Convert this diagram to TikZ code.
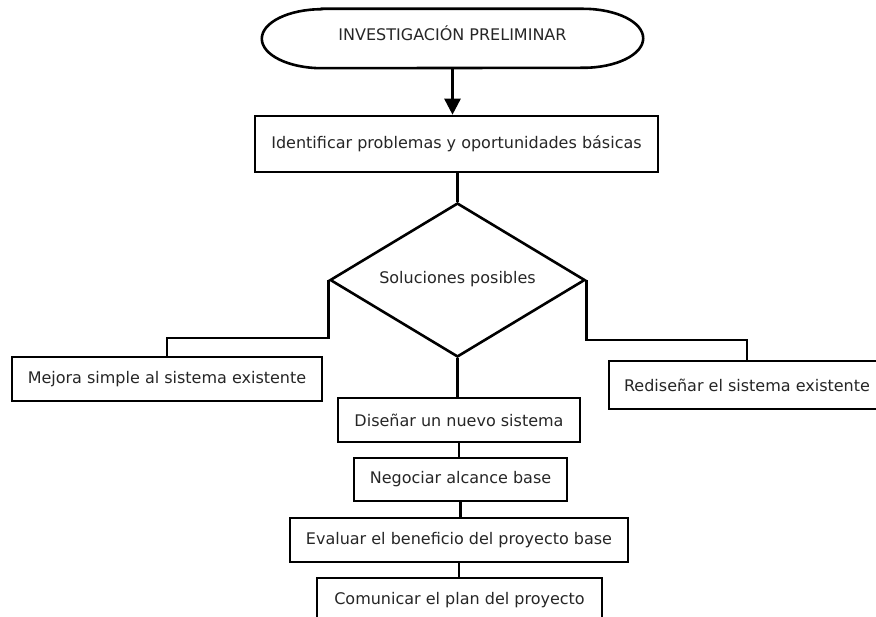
\documentclass[tikz,border=0pt]{standalone}
\usepackage{fontspec}
\setmainfont{DejaVu Sans}
\usetikzlibrary{shapes.geometric,arrows.meta}
\tikzset{
  line/.style={line width=2.6pt, draw=black},
  boxnode/.style={draw=black, line width=2.6pt, fill=white, text=black!85, inner sep=0pt,
    font=\fontsize{16}{19}\selectfont},
  txt/.style={text=black!85, font=\fontsize{16}{19}\selectfont},
}
\begin{document}
\begin{tikzpicture}[x=1pt,y=-1pt]
\useasboundingbox (0,0) rectangle (876,617);
\fill[white] (0,0) rectangle (876,617);
\clip (0,0) rectangle (876,617);
% terminator
\node[txt, minimum width=381pt, minimum height=59pt, inner sep=0pt] (start) at (452.5,38.5) {};
\node[txt] (startlbl) at (452.5,33) {INVESTIGACIÓN PRELIMINAR};
\draw[line] ([xshift=60pt]start.north west) -- ([xshift=-60pt]start.north east)
  arc[start angle=90, end angle=-90, x radius=60pt, y radius=29.5pt]
  -- ([xshift=60pt]start.south west)
  arc[start angle=270, end angle=90, x radius=60pt, y radius=29.5pt] -- cycle;
% boxes
\node[boxnode, minimum width=403pt, minimum height=56pt] (ident) at (456.5,144) {Identificar problemas y oportunidades básicas};
\node[diamond, draw=black, line width=2.6pt, inner sep=0pt, aspect=1.65,
  minimum width=255pt, minimum height=154pt, txt] (sol) at (457.5,280) {};
\node[txt] (sollbl) at (457.5,279) {Soluciones posibles};
\node[boxnode, minimum width=310pt, minimum height=44pt] (mejora) at (167,379) {Mejora simple al sistema existente};
\node[boxnode, minimum width=276pt, minimum height=48pt] (redis) at (747,385) {Rediseñar el sistema existente};
\node[boxnode, minimum width=242pt, minimum height=44pt] (disen) at (459,420) {Diseñar un nuevo sistema};
\node[boxnode, minimum width=213pt, minimum height=43pt] (nego) at (460.5,479.5) {Negociar alcance base};
\node[boxnode, minimum width=338pt, minimum height=44pt] (eval) at (459,540) {Evaluar el beneficio del proyecto base};
\node[boxnode, minimum width=285pt, minimum height=44pt] (comu) at (459.5,600) {Comunicar el plan del proyecto};
% connectors
\draw[line, -{Triangle[width=16pt,length=16pt]}] (start.south) -- (start.south |- ident.north);
\draw[line] (ident.south -| sol.north) -- (sol.north);
\draw[line] (sol.west) -- ++(0,58) -| (mejora.north);
\draw[line] (sol.east) -- ++(0,60) -| (redis.north);
\draw[line] (sol.south) -- (sol.south |- disen.north);
\draw[line] (disen.south) -- (disen.south |- nego.north);
\draw[line] (nego.south) -- (nego.south |- eval.north);
\draw[line] (eval.south) -- (eval.south |- comu.north);
\end{tikzpicture}
\end{document}
